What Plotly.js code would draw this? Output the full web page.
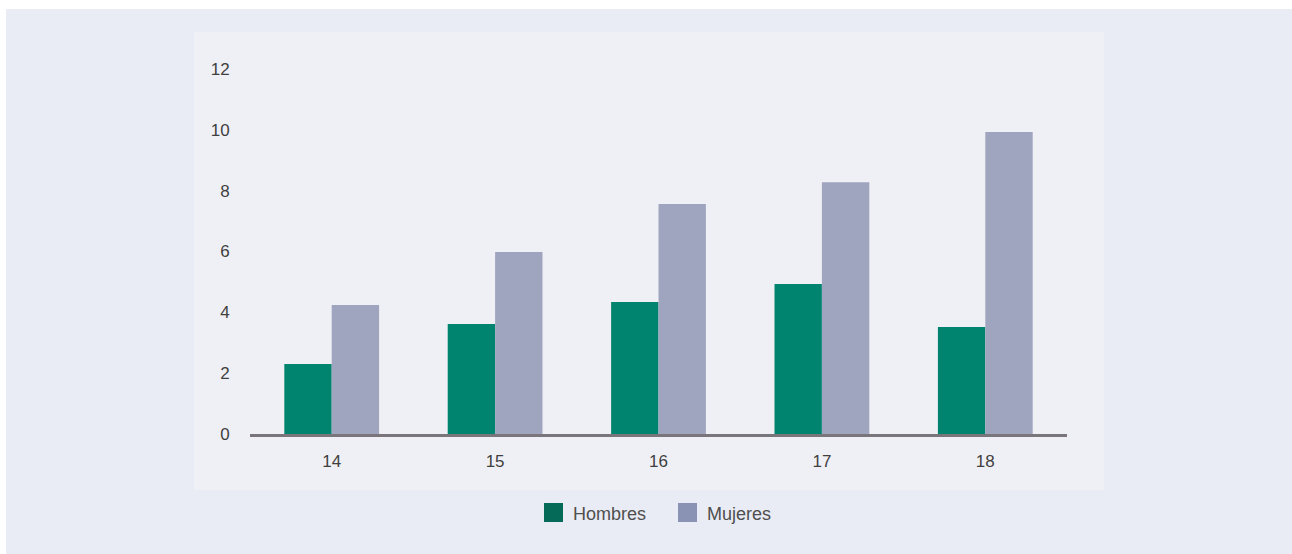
<!DOCTYPE html>
<html>
<head>
<meta charset="utf-8">
<script src="https://cdn.plot.ly/plotly-3.0.1.min.js"></script>
<style>
html,body{margin:0;padding:0;background:#e9ecf4;}
#chart{width:1292px;height:554px;}
</style>
</head>
<body>
<div id="chart"></div>
<script>
const categories = ['14', '15', '16', '17', '18'];
const hombres = [2.3, 3.62, 4.34, 4.93, 3.52];
const mujeres = [4.24, 5.98, 7.56, 8.28, 9.93];
const seriesNames = ['Hombres', 'Mujeres'];
const yTicks = [0, 2, 4, 6, 8, 10, 12];

const barColors = ['#00846f', '#a0a5bf'];
const legendColors = ['#056a58', '#8b93b5'];

const traces = [
  {type: 'bar', x: categories, y: hombres, name: seriesNames[0],
   marker: {color: barColors[0], line: {width: 0}}, showlegend: false, hoverinfo: 'skip'},
  {type: 'bar', x: categories, y: mujeres, name: seriesNames[1],
   marker: {color: barColors[1], line: {width: 0}}, showlegend: false, hoverinfo: 'skip'}
];

const W = 1292, H = 554;
const ml = 250, mr = 225, mt = 69, mb = 120;
function px(x){ return (x - ml) / (W - ml - mr); }
function py(y){ return (H - mb - y) / (H - mt - mb); }

const shapes = [
  {type:'rect', xref:'paper', yref:'paper', x0:px(0), x1:px(W), y0:py(0), y1:py(9), fillcolor:'#ffffff', line:{width:0}, layer:'below'},
  {type:'rect', xref:'paper', yref:'paper', x0:px(0), x1:px(6), y0:py(0), y1:py(H), fillcolor:'#ffffff', line:{width:0}, layer:'below'},
  {type:'rect', xref:'paper', yref:'paper', x0:px(194), x1:px(1104), y0:py(32), y1:py(490), fillcolor:'#eff0f5', line:{width:0}, layer:'below'},
  {type:'rect', xref:'paper', yref:'paper', x0:px(544), x1:px(563), y0:py(503), y1:py(522), fillcolor:legendColors[0], line:{width:0}},
  {type:'rect', xref:'paper', yref:'paper', x0:px(678), x1:px(697), y0:py(503), y1:py(522), fillcolor:legendColors[1], line:{width:0}}
];

const annotations = [
  {xref:'paper', yref:'paper', x:px(571), y:py(514), xanchor:'left', yanchor:'middle', text:seriesNames[0], showarrow:false,
   font:{family:'Liberation Sans, Arial, sans-serif', size:18, color:'#4f4f4f'}},
  {xref:'paper', yref:'paper', x:px(705), y:py(514), xanchor:'left', yanchor:'middle', text:seriesNames[1], showarrow:false,
   font:{family:'Liberation Sans, Arial, sans-serif', size:18, color:'#4f4f4f'}}
];

const layout = {
  width: W, height: H,
  margin: {l: ml, r: mr, t: mt, b: mb, pad: 0},
  paper_bgcolor: '#e9ecf4',
  plot_bgcolor: 'rgba(0,0,0,0)',
  barmode: 'group',
  bargap: 0.42,
  bargroupgap: 0,
  font: {family: 'Liberation Sans, Arial, sans-serif', size: 17, color: '#3f3f3f'},
  xaxis: {
    type: 'category', range: [-0.5, 4.5], showgrid: false, zeroline: false,
    showline: true, linecolor: '#79757b', linewidth: 3,
    ticks: 'outside', ticklen: 10, tickcolor: 'rgba(0,0,0,0)',
    tickfont: {size: 17, color: '#3f3f3f'}, fixedrange: true
  },
  yaxis: {
    range: [0, 12], tickvals: yTicks, showgrid: false, zeroline: false, showline: false,
    ticks: 'outside', ticklen: 16, tickcolor: 'rgba(0,0,0,0)',
    tickfont: {size: 17, color: '#3f3f3f'}, fixedrange: true
  },
  shapes: shapes,
  annotations: annotations,
  showlegend: false
};

Plotly.newPlot('chart', traces, layout, {displayModeBar: false, staticPlot: true});
</script>
</body>
</html>
